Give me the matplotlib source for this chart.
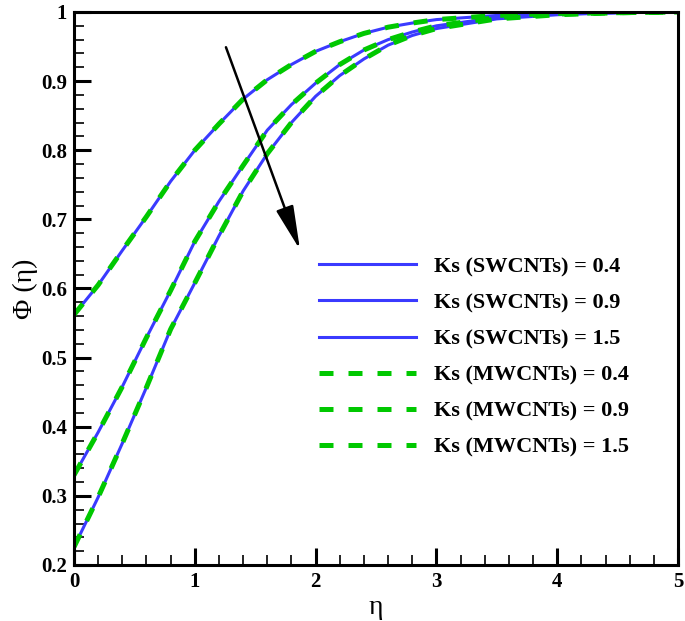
import numpy as np
import matplotlib
matplotlib.use("Agg")
import matplotlib.pyplot as plt
from matplotlib.ticker import MultipleLocator, FuncFormatter

plt.rcParams['font.family'] = ['Liberation Serif', 'DejaVu Serif']

# eta grid and profiles
eta = [0.0, 0.2, 0.4, 0.6, 0.8, 1.0, 1.2, 1.4, 1.6, 1.8, 2.0,
       2.2, 2.4, 2.6, 2.8, 3.0, 3.5, 4.0, 4.5, 5.0]

phi_sw_04 = [0.562, 0.605, 0.655, 0.704, 0.755, 0.800, 0.838, 0.874, 0.902, 0.924, 0.943,
             0.957, 0.969, 0.978, 0.984, 0.989, 0.995, 0.998, 0.999, 1.0]
phi_sw_09 = [0.330, 0.392, 0.458, 0.529, 0.597, 0.668, 0.726, 0.778, 0.829, 0.866, 0.897,
             0.924, 0.945, 0.960, 0.971, 0.980, 0.992, 0.997, 0.999, 1.0]
phi_sw_15 = [0.226, 0.298, 0.376, 0.457, 0.541, 0.608, 0.676, 0.741, 0.795, 0.840, 0.878,
             0.908, 0.932, 0.952, 0.966, 0.976, 0.990, 0.996, 0.999, 1.0]

# MWCNTs curves coincide with SWCNTs in the figure
phi_mw_04 = [0.562, 0.605, 0.655, 0.704, 0.755, 0.800, 0.838, 0.874, 0.902, 0.924, 0.943,
             0.957, 0.969, 0.978, 0.984, 0.989, 0.995, 0.998, 0.999, 1.0]
phi_mw_09 = [0.330, 0.392, 0.458, 0.529, 0.597, 0.668, 0.726, 0.778, 0.829, 0.866, 0.897,
             0.924, 0.945, 0.960, 0.971, 0.980, 0.992, 0.997, 0.999, 1.0]
phi_mw_15 = [0.226, 0.298, 0.376, 0.457, 0.541, 0.608, 0.676, 0.741, 0.795, 0.840, 0.878,
             0.908, 0.932, 0.952, 0.966, 0.976, 0.990, 0.996, 0.999, 1.0]

ks_values = ['0.4', '0.9', '1.5']

fig = plt.figure(figsize=(6.85, 6.21), dpi=100)
ax = fig.add_axes([0.108, 0.0902, 0.8818, 0.8905])

blue = '#3a3aff'
green = '#00c800'

for ks, phi in zip(ks_values, [phi_sw_04, phi_sw_09, phi_sw_15]):
    ax.plot(eta, phi, color=blue, lw=2.2, label=f'Ks (SWCNTs) = {ks}')
for ks, phi in zip(ks_values, [phi_mw_04, phi_mw_09, phi_mw_15]):
    ax.plot(eta, phi, color=green, lw=3.6, dashes=(2.8, 3.0), dash_capstyle='butt',
            label=f'Ks (MWCNTs) = {ks}')

# arrow showing increasing Ks
ax.annotate('', xy=(1.871, 0.656), xytext=(1.258, 0.949),
            arrowprops=dict(arrowstyle='-|>,head_length=2.7,head_width=0.55',
                            color='black', lw=1.8, shrinkA=0, shrinkB=0))

ax.set_xlim(0, 5)
ax.set_ylim(0.2, 1.0)
ax.xaxis.set_major_locator(MultipleLocator(1))
ax.xaxis.set_minor_locator(MultipleLocator(0.2))
ax.yaxis.set_major_locator(MultipleLocator(0.1))
ax.yaxis.set_minor_locator(MultipleLocator(0.02))
ax.xaxis.set_major_formatter(FuncFormatter(lambda v, p: f'{v:g}'))
ax.yaxis.set_major_formatter(FuncFormatter(lambda v, p: f'{round(v, 2):g}'))

ax.tick_params(which='both', direction='in', top=False, right=False)
ax.tick_params(which='major', length=12, width=2.2, labelsize=15, pad=5)
ax.tick_params(which='minor', length=7, width=1.2)
for lbl in ax.get_xticklabels() + ax.get_yticklabels():
    lbl.set_fontweight('bold')
for sp in ax.spines.values():
    sp.set_linewidth(2.2)

ax.set_xlabel('η', fontsize=20, labelpad=2)
ax.set_ylabel('Φ (η)', fontsize=20, labelpad=2)

leg = ax.legend(loc='upper left', bbox_to_anchor=(0.372, 0.594), frameon=False,
                prop={'weight': 'bold', 'size': 16}, handlelength=4.4,
                labelspacing=0.7, handletextpad=0.8)

fig.savefig('out.png', dpi=100)
